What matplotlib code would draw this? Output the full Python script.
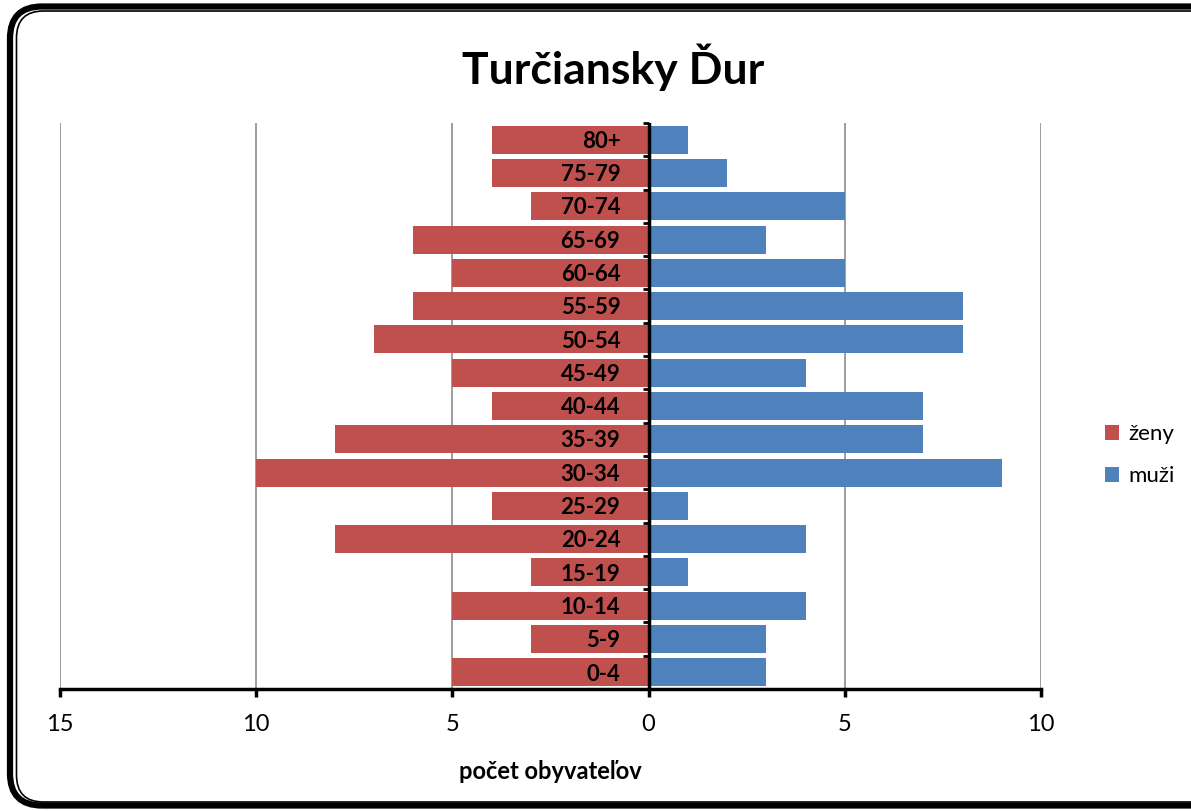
import matplotlib
matplotlib.use("Agg")
import matplotlib.pyplot as plt
from matplotlib.patches import FancyBboxPatch

categories = ["0-4", "5-9", "10-14", "15-19", "20-24", "25-29", "30-34", "35-39",
              "40-44", "45-49", "50-54", "55-59", "60-64", "65-69", "70-74", "75-79", "80+"]
zeny = [5, 3, 5, 3, 8, 4, 10, 8, 4, 5, 7, 6, 5, 6, 3, 4, 4]
muzi = [3, 3, 4, 1, 4, 1, 9, 7, 7, 4, 8, 8, 5, 3, 5, 2, 1]
xticks = [-15, -10, -5, 0, 5, 10]
xticklabels = ["15", "10", "5", "0", "5", "10"]

plt.rcParams['font.family'] = ['Lato', 'DejaVu Sans']

fig = plt.figure(figsize=(11.91, 8.11), dpi=100)
ax = fig.add_axes([60/1191, 1-689/811, (1041-60)/1191, (689-123)/811])

y = list(range(len(categories)))
ax.barh(y, [-v for v in zeny], height=0.84, color="#C0504D", edgecolor="none", label="ženy", zorder=2)
ax.barh(y, muzi, height=0.84, color="#4F81BD", edgecolor="none", label="muži", zorder=2)

for yi, c in zip(y, categories):
    ax.text(-0.72, yi - 0.05, c, ha="right", va="center", fontsize=16, fontweight="bold", color="black", zorder=4)

ax.set_xlim(-15, 10)
ax.set_ylim(-0.5, len(categories) - 0.5)
ax.set_yticks([])
ax.set_xticks(xticks)
ax.set_xticklabels(xticklabels, fontsize=17)
ax.tick_params(axis="x", direction="out", length=6, width=2.5, pad=12)
for xv in xticks:
    if xv != 0:
        ax.axvline(xv, color="#8c8c8c", linewidth=1.2, zorder=1)
ax.axvline(0, color="black", linewidth=2.5, zorder=3)
# small category-boundary ticks on the central axis
for b in range(len(categories) + 1):
    ax.plot([-0.15, 0], [b - 0.5, b - 0.5], color="black", linewidth=2, zorder=3, solid_capstyle="butt", clip_on=False)
for s in ["top", "right", "left"]:
    ax.spines[s].set_visible(False)
ax.spines["bottom"].set_linewidth(2.5)
ax.set_xlabel("počet obyvateľov", fontsize=17, fontweight="bold", labelpad=18)

fig.text(613/1191, 1-67/811, "Turčiansky Ďur", ha="center", va="center", fontsize=32, fontweight="bold")

leg = ax.legend(loc="center left", bbox_to_anchor=(1085/1191, 1-455/811), bbox_transform=fig.transFigure,
                frameon=False, fontsize=16, handlelength=0.65, handleheight=0.65, handletextpad=0.4, labelspacing=1.0)

# rounded double border (coordinates in inches = pixels / 100); right side runs off the image
outer = FancyBboxPatch((0.10, 0.055), 12.20, 7.99, boxstyle="round,pad=0,rounding_size=0.32",
                       transform=fig.dpi_scale_trans, fill=False, edgecolor="black", linewidth=4.5)
inner = FancyBboxPatch((0.165, 0.09), 12.10, 7.91, boxstyle="round,pad=0,rounding_size=0.27",
                       transform=fig.dpi_scale_trans, fill=False, edgecolor="black", linewidth=1.2)
fig.patches.extend([outer, inner])

fig.savefig("out.png", dpi=100)
